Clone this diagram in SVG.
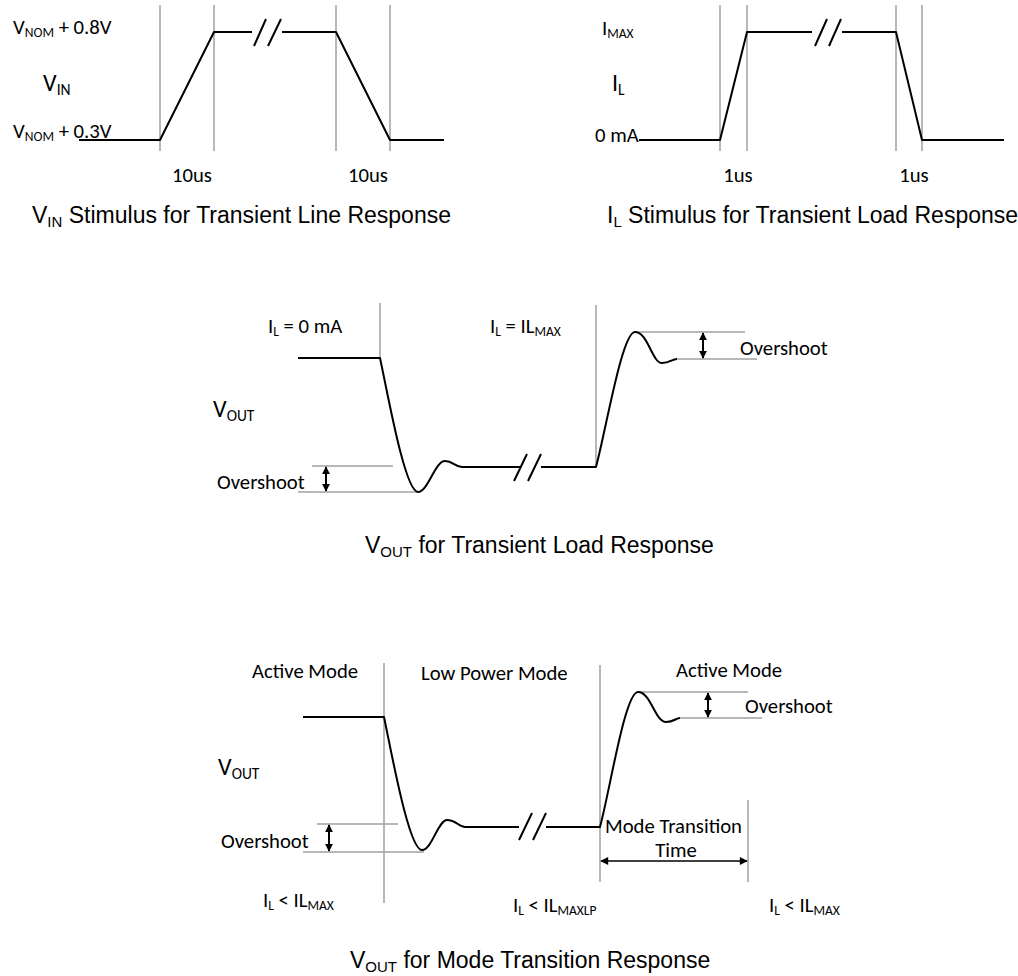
<svg xmlns="http://www.w3.org/2000/svg" width="1018" height="976" viewBox="0 0 1018 976">
<defs>
<style>
.bg{fill:#fff}
.guide{stroke:#a0a0a0;stroke-width:1.5;fill:none}
.wave{stroke:#000;stroke-width:2;fill:none;stroke-linejoin:round}
.dim{stroke:#000;stroke-width:2;fill:none}
.dimthin{stroke:#000;stroke-width:1.5;fill:none}
.lbl{font-family:Carlito,Lato,"Open Sans",sans-serif;font-size:20.7px;fill:#000}
.big{font-size:24px}
.ttl{font-family:"Liberation Sans",Arial,sans-serif;font-size:23px;fill:#000}
</style>
<marker id="ah" viewBox="0 0 10 10" refX="9" refY="5" markerWidth="8" markerHeight="9" markerUnits="userSpaceOnUse" orient="auto-start-reverse">
<path d="M0,0 L10,5 L0,10 Z" fill="#000"/>
</marker>
<marker id="ah2" viewBox="0 0 10 10" refX="9" refY="5" markerWidth="10" markerHeight="8" markerUnits="userSpaceOnUse" orient="auto-start-reverse">
<path d="M0,0 L10,5 L0,10 Z" fill="#000"/>
</marker>
</defs>
<rect class="bg" x="0" y="0" width="1018" height="976"/>

<g id="line-stimulus">
<line class="guide" x1="160" y1="5" x2="160" y2="151"/>
<line class="guide" x1="214" y1="5" x2="214" y2="151"/>
<line class="guide" x1="336" y1="5" x2="336" y2="151"/>
<line class="guide" x1="390" y1="5" x2="390" y2="151"/>
<path class="wave" d="M79,140 H160 L214,32 H252 M282,32 H336 L390,140 H444"/>
<path class="wave" d="M254,46 L266,19 M268,46 L281,19" stroke-width="1.5"/>
<text class="lbl" x="13" y="34">V<tspan font-size="13.5" dy="3">NOM</tspan><tspan dy="-3"> + 0.8V</tspan></text>
<text class="lbl big" x="43" y="91">V<tspan font-size="15.5" dy="4">IN</tspan></text>
<text class="lbl" x="13" y="138">V<tspan font-size="13.5" dy="3">NOM</tspan><tspan dy="-3"> + 0.3V</tspan></text>
<text class="lbl" x="192" y="182" text-anchor="middle">10us</text>
<text class="lbl" x="368" y="182" text-anchor="middle">10us</text>
<text class="ttl" x="32" y="223">V<tspan font-size="15" dy="4">IN</tspan><tspan dy="-4"> Stimulus for Transient Line Response</tspan></text>
</g>

<g id="load-stimulus">
<line class="guide" x1="720" y1="5" x2="720" y2="151"/>
<line class="guide" x1="747" y1="5" x2="747" y2="151"/>
<line class="guide" x1="896" y1="5" x2="896" y2="151"/>
<line class="guide" x1="922" y1="5" x2="922" y2="151"/>
<path class="wave" d="M639,140 H720 L747,32 H812 M842,32 H896 L922,140 H1004"/>
<path class="wave" d="M815,46 L827,19 M829,46 L841,19" stroke-width="1.5"/>
<text class="lbl" x="602" y="35">I<tspan font-size="13.5" dy="3">MAX</tspan></text>
<text class="lbl big" x="612" y="91">I<tspan font-size="15.5" dy="4">L</tspan></text>
<text class="lbl" x="595" y="142">0 mA</text>
<text class="lbl" x="738" y="182" text-anchor="middle">1us</text>
<text class="lbl" x="914" y="182" text-anchor="middle">1us</text>
<text class="ttl" x="607" y="223">I<tspan font-size="15" dy="4">L</tspan><tspan dy="-4"> Stimulus for Transient Load Response</tspan></text>
</g>

<g id="load-response">
<line class="guide" x1="380" y1="303" x2="380" y2="358"/>
<line class="guide" x1="596" y1="305" x2="596" y2="467"/>
<line class="guide" x1="312" y1="466" x2="393" y2="466"/>
<line class="guide" x1="298" y1="492" x2="418" y2="492"/>
<line class="guide" x1="635" y1="332" x2="745" y2="332"/>
<line class="guide" x1="677" y1="359" x2="757" y2="359"/>
<path class="wave" d="M298,358 H380 C388,395 405,492 418,492 C428,492 435,461 445,461 C453,461 455,467 462,467 H520"/>
<path class="wave" d="M541,467 H596 C606,430 622,332 635,332 C648,332 652,363 662,363 C670,363 672,359 677,359"/>
<path class="wave" d="M514,481 L527,454 M528,481 L541,454" stroke-width="1.5"/>
<text class="lbl" x="268" y="333">I<tspan font-size="13.5" dy="3">L</tspan><tspan dy="-3"> = 0 mA</tspan></text>
<text class="lbl" x="490" y="333">I<tspan font-size="13.5" dy="3">L</tspan><tspan dy="-3"> = IL</tspan><tspan font-size="13.5" dy="3">MAX</tspan></text>
<text class="lbl big" x="213" y="417">V<tspan font-size="15.5" dy="4">OUT</tspan></text>
<text class="lbl" x="217" y="489">Overshoot</text>
<text class="lbl" x="740" y="355">Overshoot</text>
<text class="ttl" x="365" y="553">V<tspan font-size="15" dy="4">OUT</tspan><tspan dy="-4"> for Transient Load Response</tspan></text>
</g>

<g id="mode-transition">
<line class="guide" x1="384" y1="663" x2="384" y2="903"/>
<line class="guide" x1="600" y1="665" x2="600" y2="882"/>
<line class="guide" x1="748" y1="800" x2="748" y2="882"/>
<line class="guide" x1="317" y1="824" x2="398" y2="824"/>
<line class="guide" x1="303" y1="852" x2="424" y2="852"/>
<line class="guide" x1="638" y1="692" x2="748" y2="692"/>
<line class="guide" x1="680" y1="718" x2="762" y2="718"/>
<path class="wave" d="M303,717 H384 C392,755 409,850 422,850 C432,850 438,820 447,820 C456,820 459,827 465,827 H519"/>
<path class="wave" d="M546,827 H600 C610,790 625,692 638,692 C651,692 655,722 666,722 C674,722 676,718 680,718"/>
<path class="wave" d="M519,840 L532,813 M533,840 L546,813" stroke-width="1.5"/>
<text class="lbl" x="252" y="678">Active Mode</text>
<text class="lbl" x="421" y="680">Low Power Mode</text>
<text class="lbl" x="676" y="677">Active Mode</text>
<text class="lbl" x="745" y="713">Overshoot</text>
<text class="lbl big" x="218" y="775">V<tspan font-size="15.5" dy="4">OUT</tspan></text>
<text class="lbl" x="221" y="848">Overshoot</text>
<text class="lbl" x="605" y="833">Mode Transition</text>
<text class="lbl" x="676" y="857" text-anchor="middle">Time</text>
<text class="lbl" x="263" y="907">I<tspan font-size="13.5" dy="3">L</tspan><tspan dy="-3"> &lt; IL</tspan><tspan font-size="13.5" dy="3">MAX</tspan></text>
<text class="lbl" x="513" y="912">I<tspan font-size="13.5" dy="3">L</tspan><tspan dy="-3"> &lt; IL</tspan><tspan font-size="13.5" dy="3">MAXLP</tspan></text>
<text class="lbl" x="769" y="912">I<tspan font-size="13.5" dy="3">L</tspan><tspan dy="-3"> &lt; IL</tspan><tspan font-size="13.5" dy="3">MAX</tspan></text>
<text class="ttl" x="350" y="968">V<tspan font-size="15" dy="4">OUT</tspan><tspan dy="-4"> for Mode Transition Response</tspan></text>
</g>

<g id="connectors">
<line class="dim" x1="326" y1="467" x2="326" y2="491" marker-start="url(#ah)" marker-end="url(#ah)"/>
<line class="dim" x1="703" y1="333" x2="703" y2="358" marker-start="url(#ah)" marker-end="url(#ah)"/>
<line class="dim" x1="329" y1="825" x2="329" y2="851" marker-start="url(#ah)" marker-end="url(#ah)"/>
<line class="dim" x1="708" y1="693" x2="708" y2="717" marker-start="url(#ah)" marker-end="url(#ah)"/>
<line class="dimthin" x1="601" y1="861" x2="747" y2="861" marker-start="url(#ah2)" marker-end="url(#ah2)"/>
</g>
</svg>
